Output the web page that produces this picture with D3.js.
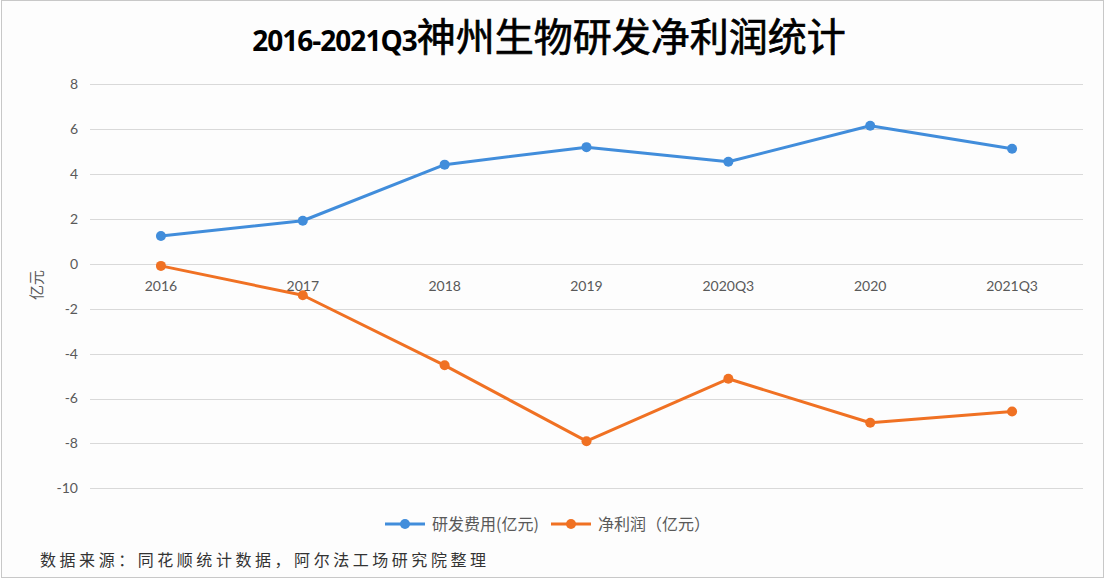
<!DOCTYPE html>
<html>
<head>
<meta charset="utf-8">
<title>神州生物研发净利润统计</title>
<script src="https://cdn.jsdelivr.net/npm/d3@7"></script>
<style>
  body { margin: 0; background: #fff; }
  .grid line { stroke: #d9d9d9; stroke-width: 1; }
  .tick-label { font-family: Lato, "Noto Sans", sans-serif; font-size: 14px; fill: #595959; }
  .cjk { font-family: "Noto Sans CJK SC", sans-serif; }
</style>
</head>
<body>
<svg width="1106" height="582"></svg>
<script>
// data (亿元)
var categories = ['2016', '2017', '2018', '2019', '2020Q3', '2020', '2021Q3']
var rdCost = [1.24, 1.92, 4.42, 5.20, 4.55, 6.15, 5.13]
var netProfit = [-0.09, -1.40, -4.52, -7.90, -5.12, -7.08, -6.58]
var yTicks = [8, 6, 4, 2, 0, -2, -4, -6, -8, -10]

var seriesNames = ['研发费用(亿元)', '净利润（亿元）']
var colors = ['#418ddb', '#f07123']

var svg = d3.select('svg')

// frame
svg.append('rect')
  .attr('x', 1.5).attr('y', 0.5)
  .attr('width', 1102).attr('height', 577)
  .attr('fill', '#fdfdfd')
  .attr('stroke', '#c8c8c8')

var x = d3.scaleBand()
  .domain(categories)
  .range([90, 1083])

var y = d3.scaleLinear()
  .domain([-10, 8])
  .range([488.3, 84.3])

// gridlines
svg.append('g').attr('class', 'grid')
  .selectAll('line')
  .data(yTicks)
  .enter()
  .append('line')
  .attr('x1', 90).attr('x2', 1083)
  .attr('y1', function(d) { return Math.round(y(d)) + 0.5 })
  .attr('y2', function(d) { return Math.round(y(d)) + 0.5 })

// y tick labels
svg.append('g')
  .selectAll('text')
  .data(yTicks)
  .enter()
  .append('text')
  .attr('class', 'tick-label')
  .attr('x', 78)
  .attr('y', function(d) { return y(d) })
  .attr('dy', '0.35em')
  .attr('text-anchor', 'end')
  .text(function(d) { return d })

// x labels sit under the zero line
svg.append('g')
  .selectAll('text')
  .data(categories)
  .enter()
  .append('text')
  .attr('class', 'tick-label')
  .attr('x', function(d) { return x(d) + x.bandwidth() / 2 })
  .attr('y', y(0) + 27)
  .attr('text-anchor', 'middle')
  .text(function(d) { return d })

// y axis title
svg.append('text')
  .attr('class', 'cjk')
  .attr('transform', 'translate(42,285) rotate(-90)')
  .attr('text-anchor', 'middle')
  .attr('font-size', 15)
  .attr('fill', '#595959')
  .text('亿元')

// lines
var line = d3.line()
  .x(function(d, i) { return x(categories[i]) + x.bandwidth() / 2 })
  .y(function(d) { return y(d) })

var series = [rdCost, netProfit]
series.forEach(function(vals, k) {
  var g = svg.append('g')
  g.append('path')
    .datum(vals)
    .attr('d', line)
    .attr('fill', 'none')
    .attr('stroke', colors[k])
    .attr('stroke-width', 3)
    .attr('stroke-linejoin', 'round')
  g.selectAll('circle')
    .data(vals)
    .enter()
    .append('circle')
    .attr('cx', function(d, i) { return x(categories[i]) + x.bandwidth() / 2 })
    .attr('cy', function(d) { return y(d) })
    .attr('r', 5)
    .attr('fill', colors[k])
})

// title
var title = svg.append('text')
  .attr('x', 549).attr('y', 51)
  .attr('text-anchor', 'middle')
  .attr('fill', '#000')
title.append('tspan')
  .attr('font-family', '"Open Sans", Lato, sans-serif')
  .attr('font-weight', 'bold')
  .attr('font-size', 28)
  .attr('letter-spacing', -1)
  .text('2016-2021Q3')
title.append('tspan')
  .attr('class', 'cjk')
  .attr('font-size', 39)
  .attr('font-weight', 'normal')
  .attr('stroke', '#000')
  .attr('stroke-width', 0.7)
  .text('神州生物研发净利润统计')

// legend
var legendX = [385, 551]
seriesNames.forEach(function(name, k) {
  var lg = svg.append('g').attr('transform', 'translate(' + legendX[k] + ',524)')
  lg.append('line')
    .attr('x1', 0).attr('x2', 40)
    .attr('stroke', colors[k]).attr('stroke-width', 3)
  lg.append('circle').attr('cx', 20).attr('r', 5).attr('fill', colors[k])
  lg.append('text')
    .attr('class', 'cjk')
    .attr('x', 47).attr('dy', '0.35em')
    .attr('font-size', 16)
    .attr('fill', '#595959')
    .text(name)
})

// source note
svg.append('text')
  .attr('class', 'cjk')
  .attr('x', 40).attr('y', 566)
  .attr('font-size', 16)
  .attr('fill', '#333')
  .attr('textLength', 446)
  .text('数据来源：同花顺统计数据，阿尔法工场研究院整理')
</script>
</body>
</html>
